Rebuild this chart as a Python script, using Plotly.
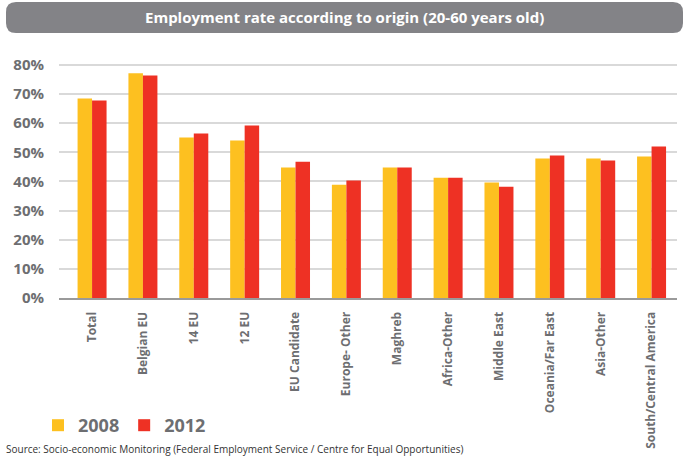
import plotly.graph_objects as go

# Employment rate (%) by origin, population aged 20-60
categories = ["Total", "Belgian EU", "14 EU", "12 EU", "EU Candidate", "Europe- Other",
              "Maghreb", "Africa-Other", "Middle East", "Oceania/Far East", "Asia-Other",
              "South/Central America"]
rate_2008 = [68.5, 77.1, 55.1, 54.1, 44.8, 38.9, 44.8, 41.3, 39.6, 47.9, 47.9, 48.6]
rate_2012 = [67.8, 76.4, 56.5, 59.2, 46.8, 40.3, 44.8, 41.3, 38.2, 48.9, 47.2, 52.0]
y_ticks = [0, 10, 20, 30, 40, 50, 60, 70, 80]

W, H = 687, 457
ML, MR, MT, MB = 59, 10, 62, 159
PW, PH = W - ML - MR, H - MT - MB

def px_x(p):
    return (p - ML) / PW

def px_y(p):
    return (H - MB - p) / PH

GREY_TXT = "#6d6e71"
FONT = "Open Sans"

fig = go.Figure()
fig.add_trace(go.Bar(name="2008", x=categories, y=rate_2008, marker_color="#FDC020",
                     marker_line_width=0))
fig.add_trace(go.Bar(name="2012", x=categories, y=rate_2012, marker_color="#EE3124",
                     marker_line_width=0))

# rounded title banner
x0, x1, y0, y1, r = 6, 683, 2, 33, 10
path = (
    f"M {px_x(x0 + r)} {px_y(y0)} L {px_x(x1 - r)} {px_y(y0)} "
    f"Q {px_x(x1)} {px_y(y0)} {px_x(x1)} {px_y(y0 + r)} "
    f"L {px_x(x1)} {px_y(y1 - r)} Q {px_x(x1)} {px_y(y1)} {px_x(x1 - r)} {px_y(y1)} "
    f"L {px_x(x0 + r)} {px_y(y1)} Q {px_x(x0)} {px_y(y1)} {px_x(x0)} {px_y(y1 - r)} "
    f"L {px_x(x0)} {px_y(y0 + r)} Q {px_x(x0)} {px_y(y0)} {px_x(x0 + r)} {px_y(y0)} Z"
)
fig.add_shape(type="path", path=path, xref="paper", yref="paper",
              fillcolor="#838387", line_width=0, layer="above")

fig.add_annotation(x=px_x(344.5), y=px_y(17.5), xref="paper", yref="paper",
                   text="<b>Employment rate according to origin (20-60 years old)</b>",
                   showarrow=False, font=dict(family=FONT, size=15, color="white"),
                   xanchor="center", yanchor="middle")

fig.add_annotation(x=px_x(4), y=px_y(440), xref="paper", yref="paper",
                   text="Source: Socio-economic Monitoring (Federal Employment Service / Centre for Equal Opportunities)",
                   showarrow=False, font=dict(family=FONT, size=10, color="#333333"),
                   xanchor="left", yanchor="top")

fig.update_layout(
    width=W, height=H,
    margin=dict(l=ML, r=MR, t=MT, b=MB, autoexpand=False),
    paper_bgcolor="white", plot_bgcolor="white",
    barmode="group", bargap=0.43, bargroupgap=0,
    showlegend=True,
    legend=dict(orientation="h", xref="container", yref="container",
                x=38 / W, y=1 - 407 / H, xanchor="left", yanchor="top",
                font=dict(family=FONT, size=18, color=GREY_TXT, weight="bold"),
                itemwidth=30, traceorder="normal"),
    xaxis=dict(range=[-0.65, 11.5], tickangle=-90, showgrid=False, automargin=False,
               showline=True, linecolor="#9a9a9a", linewidth=2,
               ticks="", ticklabelstandoff=7,
               tickfont=dict(family=FONT, size=12, color=GREY_TXT, weight="bold")),
    yaxis=dict(range=[0, 81], tickvals=y_ticks, ticktext=[f"{v}%" for v in y_ticks],
               showgrid=True, gridcolor="#d9d9d9", gridwidth=2, automargin=False,
               zeroline=False, showline=False, ticks="", ticklabelstandoff=14,
               tickfont=dict(family=FONT, size=15, color=GREY_TXT, weight="bold")),
)

fig.write_html("out.html")
